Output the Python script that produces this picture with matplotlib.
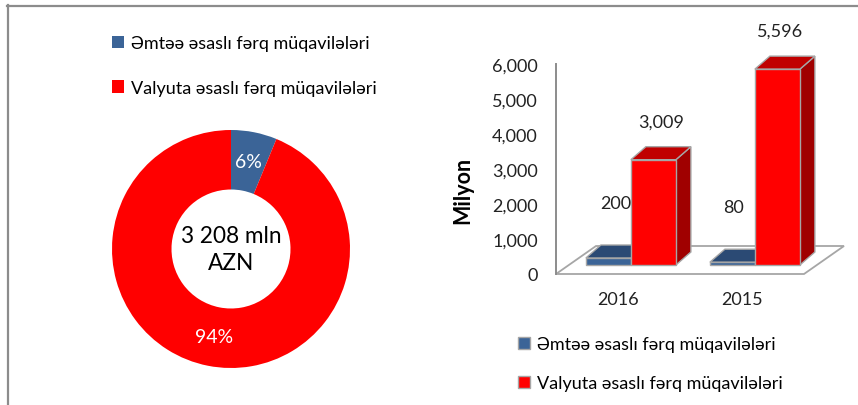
import matplotlib
matplotlib.use("Agg")
import matplotlib.pyplot as plt
from matplotlib.patches import Polygon, Patch
from matplotlib.lines import Line2D

plt.rcParams['font.family'] = ['Lato', 'DejaVu Sans']

# ---------------- data ----------------
series_names = ["Əmtəə əsaslı fərq müqavilələri", "Valyuta əsaslı fərq müqavilələri"]
donut_values = [200, 3009]
donut_center_text = "3 208 mln\nAZN"

years = ["2016", "2015"]
commodity_values = [200, 80]
currency_values = [3009, 5596]
y_ticks = [0, 1000, 2000, 3000, 4000, 5000, 6000]
y_label = "Milyon"

# ---------------- style ----------------
BLUE = "#3B6497"
BLUE_TOP = "#2B4A74"
BLUE_SIDE = "#223D62"
RED = "#FF0000"
RED_TOP = "#C00000"
RED_SIDE = "#A00000"
EDGE = "#A6A6A6"
GRAY = "#8C8C8C"
FS = 13

W, H = 858, 406
fig = plt.figure(figsize=(W / 100, H / 100), dpi=100)


def rect(l, t, r, b):
    return [l / W, 1 - b / H, (r - l) / W, (b - t) / H]


# border lines
fig.add_artist(Line2D([7 / W, 1], [1 - 6.5 / H, 1 - 6.5 / H], color=GRAY, lw=1.6,
                      transform=fig.transFigure))
fig.add_artist(Line2D([7.5 / W, 7.5 / W], [1 - 6 / H, 0], color=GRAY, lw=1.6,
                      transform=fig.transFigure))

# ---------------- donut ----------------
axd = fig.add_axes(rect(112, 131, 350, 369))
wedges, _texts, autotexts = axd.pie(
    donut_values, colors=[BLUE, RED], startangle=90, counterclock=False,
    radius=1.0, wedgeprops=dict(width=0.5, linewidth=0),
    autopct=lambda p: f"{p:.0f}%", pctdistance=0.75,
    textprops=dict(color="white", fontsize=14))
axd.set_xlim(-1, 1)
axd.set_ylim(-1, 1)
axd.set_aspect("equal")
axd.text(0, 0, donut_center_text, ha="center", va="center", fontsize=16.3,
         linespacing=1.3, color="black")

fig.legend(handles=[Patch(facecolor=BLUE), Patch(facecolor=RED)], labels=series_names,
           loc="upper left", bbox_to_anchor=(112 / W, 1 - 36 / H), frameon=False,
           fontsize=FS, handlelength=0.66, handleheight=0.66, handletextpad=0.4,
           labelspacing=1.6, borderaxespad=0, borderpad=0)

# ---------------- 3D-looking bars ----------------
PX_PER_1000 = 35.0
L, R, T, B = 556, 858, 15, 285
Y0 = 275  # pixel of value 0 (front edge)
axb = fig.add_axes(rect(L, T, R, B))
cat_px = [618, 742]
unit = cat_px[1] - cat_px[0]
axb.set_xlim((L - cat_px[0]) / unit, (R - cat_px[0]) / unit)
axb.set_ylim((Y0 - B) * 1000 / PX_PER_1000, (Y0 - T) * 1000 / PX_PER_1000)

v_per_px = 1000 / PX_PER_1000
floor_dx = 40 / unit
floor_dy = 28 * v_per_px
bar_dx = 15 / unit
bar_dy = 13 * v_per_px
bar_shift_x = 0.104
bar_base = 9 * v_per_px
bar_w = 45 / unit

# floor
fl = [(-0.5, 0), (1.5, 0), (1.5 + floor_dx, floor_dy), (-0.5 + floor_dx, floor_dy)]
axb.add_patch(Polygon(fl, closed=True, facecolor="white", edgecolor=EDGE, lw=1.3, zorder=1))


def bar3d(ax, x0, value, front, top, side):
    x1 = x0 + bar_w
    y0 = bar_base
    y1 = bar_base + value
    ax.add_patch(Polygon([(x1, y0), (x1 + bar_dx, y0 + bar_dy), (x1 + bar_dx, y1 + bar_dy), (x1, y1)],
                         closed=True, facecolor=side, edgecolor=EDGE, lw=1, zorder=3))
    ax.add_patch(Polygon([(x0, y1), (x1, y1), (x1 + bar_dx, y1 + bar_dy), (x0 + bar_dx, y1 + bar_dy)],
                         closed=True, facecolor=top, edgecolor=EDGE, lw=1, zorder=3))
    ax.add_patch(Polygon([(x0, y0), (x1, y0), (x1, y1), (x0, y1)],
                         closed=True, facecolor=front, edgecolor=EDGE, lw=1, zorder=3))


for i in range(len(years)):
    xc = i + bar_shift_x
    bar3d(axb, xc - bar_w, commodity_values[i], BLUE, BLUE_TOP, BLUE_SIDE)
    bar3d(axb, xc, currency_values[i], RED, RED_TOP, RED_SIDE)
    # labels
    axb.text(xc - bar_w / 2 + bar_dx / 2 - (0.05 if i else 0),
             bar_base + commodity_values[i] + bar_dy + 1200,
             f"{commodity_values[i]:,}", ha="center", va="center", fontsize=FS, color="#222222", zorder=5)
    axb.text(xc + bar_w / 2 + bar_dx / 2 - (0.04 if i else 0), bar_base + currency_values[i] + bar_dy + 720,
             f"{currency_values[i]:,}", ha="center", va="center", fontsize=FS, color="#222222", zorder=5)

for s in ["top", "right", "bottom"]:
    axb.spines[s].set_visible(False)
axb.spines["left"].set_bounds(0, 6000)
axb.spines["left"].set_color(GRAY)
axb.spines["left"].set_linewidth(1.4)
axb.set_yticks(y_ticks)
axb.set_yticklabels([f"{v:,}" for v in y_ticks])
axb.set_xticks(range(len(years)))
axb.set_xticklabels(years)
axb.tick_params(axis="y", length=0, pad=13, labelsize=FS, labelcolor="#222222")
axb.tick_params(axis="x", length=0, pad=5, labelsize=FS, labelcolor="#222222")
axb.patch.set_alpha(0)

fig.text(463 / W, 1 - 190 / H, y_label, rotation=90, ha="center", va="center",
         fontsize=15.5, fontweight="bold")

fig.legend(handles=[Patch(facecolor=BLUE, edgecolor=EDGE), Patch(facecolor=RED, edgecolor=EDGE)],
           labels=series_names, loc="upper left", bbox_to_anchor=(518 / W, 1 - 337 / H),
           frameon=False, fontsize=FS, handlelength=0.66, handleheight=0.66, handletextpad=0.4,
           labelspacing=1.28, borderaxespad=0, borderpad=0)

fig.savefig("out.png", dpi=100)
